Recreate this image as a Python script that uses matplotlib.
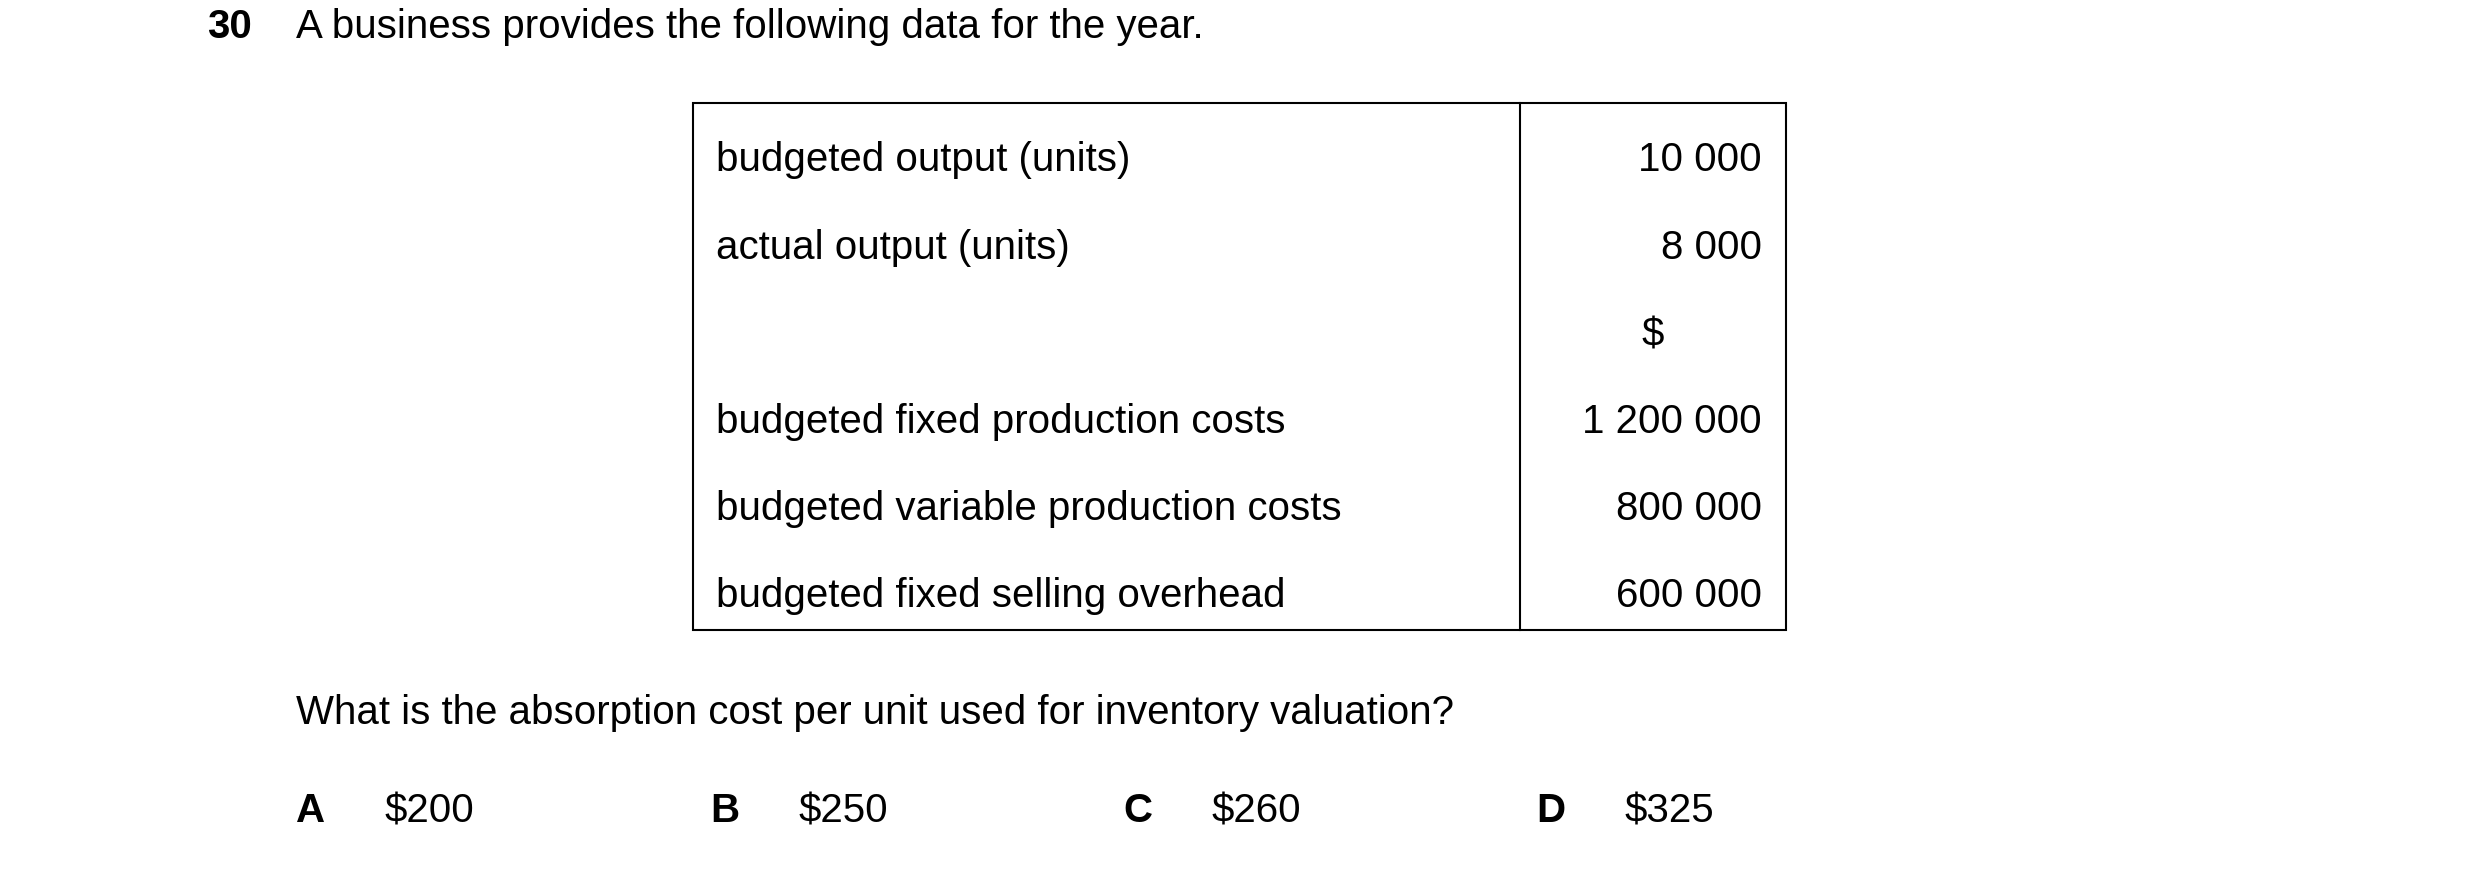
import matplotlib
matplotlib.use("Agg")
import matplotlib.pyplot as plt
from matplotlib.patches import Rectangle
from matplotlib.lines import Line2D

plt.rcParams['font.family'] = ['Liberation Sans', 'DejaVu Sans']

q_number = "30"
q_intro = "A business provides the following data for the year."
row_labels = ["budgeted output (units)", "actual output (units)", "",
              "budgeted fixed production costs", "budgeted variable production costs",
              "budgeted fixed selling overhead"]
row_values = ["10 000", "8 000", "$", "1 200 000", "800 000", "600 000"]
question = "What is the absorption cost per unit used for inventory valuation?"
option_letters = ["A", "B", "C", "D"]
option_values = ["$200", "$250", "$260", "$325"]

W, H = 1568.0, 550.0
fig = plt.figure(figsize=(24.8, 8.7), dpi=100)
fx = lambda x: x / W
fy = lambda y: 1 - y / H
fs = 29

fig.text(fx(131), fy(17), q_number, fontsize=fs, fontweight='bold', va='center')
fig.text(fx(187), fy(17), q_intro, fontsize=fs, va='center')

fig.add_artist(Rectangle((fx(438), fy(399)), fx(1129) - fx(438), fy(66) - fy(399),
                         transform=fig.transFigure, fill=False, lw=1.5, ec='black'))
fig.add_artist(Line2D([fx(961), fx(961)], [fy(66), fy(399)],
                      transform=fig.transFigure, lw=1.5, color='black'))
row_y = [101, 157, 212, 267, 322, 377]
for y, lab, val in zip(row_y, row_labels, row_values):
    fig.text(fx(453), fy(y), lab, fontsize=fs, va='center')
    if val == "$":
        fig.text(fx(1045), fy(y), val, fontsize=fs, va='center', ha='center')
    else:
        fig.text(fx(1114), fy(y), val, fontsize=fs, va='center', ha='right')

fig.text(fx(187), fy(451), question, fontsize=fs, va='center')
opt_x = [187, 449, 710, 971]
for x, l, v in zip(opt_x, option_letters, option_values):
    fig.text(fx(x), fy(513), l, fontsize=fs, fontweight='bold', va='center')
    fig.text(fx(x + 56), fy(513), v, fontsize=fs, va='center')

fig.savefig("out.png", dpi=100, facecolor='white')
